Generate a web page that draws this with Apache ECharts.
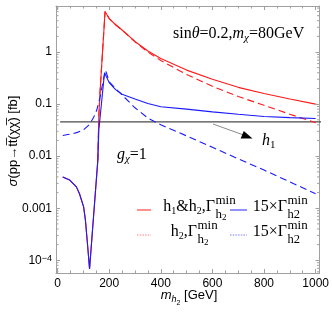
<!DOCTYPE html>
<html><head><meta charset="utf-8">
<script src="https://cdn.jsdelivr.net/npm/echarts@6/dist/echarts.min.js"></script>
<style>html,body{margin:0;padding:0;background:#fff}#c{width:332px;height:317px}</style>
</head><body><div id="c"></div>
<script>
// ---------------- data ----------------
const h1OnlySigma = 0.0457;
const h1LineMass = [10, 1030];

const redSolidMass  = [20,47,73,85,101,108,117,124,156,160,165,170,175,180,184,200,225,250,300,350,400,500,600,700,800,900,1000];
const redSolidSigma = [0.0040,0.00347,0.00257,0.0019,0.00106,0.00059,0.00018,0.000068,0.0083,0.06,0.185,0.46,1.15,2.8,6.0,4.4,3.35,2.65,1.6,1.05,0.75,0.45,0.30,0.21,0.16,0.125,0.10];

const redDashMass  = [156,160,165,170,175,180,184,200,225,250,300,350,400,500,600,700,800,900,1000];
const redDashSigma = [0.0083,0.06,0.185,0.46,1.15,2.8,6.0,4.4,3.35,2.65,1.57,1.0,0.69,0.37,0.22,0.14,0.095,0.064,0.044];

const blueSolidMass  = [20,47,73,85,101,108,117,124,156,160,182,190,200,225,250,300,350,400,500,600,700,800,900,1000];
const blueSolidSigma = [0.0040,0.00347,0.00257,0.0019,0.00106,0.00059,0.00018,0.000068,0.0083,0.032,0.40,0.33,0.26,0.19,0.155,0.125,0.103,0.089,0.08,0.071,0.064,0.058,0.055,0.053];

const blueDashMass  = [20,40,60,80,100,120,130,140,152,165,177,186,200,220,250,300,350,400,500,600,700,800,900,1000];
const blueDashSigma = [0.025,0.026,0.027,0.029,0.032,0.039,0.0457,0.056,0.077,0.138,0.29,0.45,0.27,0.21,0.15,0.085,0.054,0.040,0.0245,0.0148,0.0089,0.0054,0.0032,0.0019];

const xTickValues = [0, 200, 400, 600, 800, 1000];
const yTickValues = [1e-4, 1e-3, 1e-2, 1e-1, 1];
const yTickLabels = ['{b|10}{s|\u22124}', '0.001', '0.01', '0.1', '1'];

// ---------------- layout ----------------
const X_MIN = -6, X_MAX = 1015;
const Y_MIN = 5.7e-5, Y_MAX = 7.67;
const GRID = {left: 56, top: 6, width: 266, height: 267};
const FRAME = '#a0a0a0';
const RED = '#ff1a1a', BLUE = '#1a1aff';
const SERIF = '"Liberation Serif", "Times New Roman", serif';
const SANS = '"Liberation Sans", Arial, sans-serif';

const pairs = (m, s) => m.map((v, i) => [v, s[i]]);

// text measuring helper for composed labels
const mctx = document.createElement('canvas').getContext('2d');
function tw(t, fs, fam, it) { mctx.font = (it ? 'italic ' : '') + fs + 'px ' + fam; return mctx.measureText(t).width; }
// parts: [text, fontSize, italic, dy]
function run(x, base, parts, align, fam, fill) {
  fam = fam || SERIF; fill = fill || '#000';
  const ws = parts.map(p => tw(p[0], p[1], fam, p[2]));
  const total = ws.reduce((a, b) => a + b, 0);
  let cx = align === 'right' ? x - total : (align === 'center' ? x - total / 2 : x);
  const out = [];
  parts.forEach((p, i) => {
    out.push({
      type: 'text', x: cx, y: base + (p[3] || 0) - 0.34 * p[1], silent: true,
      style: { text: p[0], fontSize: p[1], fontFamily: fam, fontStyle: p[2] ? 'italic' : 'normal',
               fill: fill, textAlign: 'left', textVerticalAlign: 'middle', verticalAlign: 'middle' }
    });
    cx += ws[i];
  });
  return out;
}

const graphics = [];
// top-right annotation
graphics.push(...run(173, 39, [['sin', 16], ['\u03b8', 16, true], ['=0.2,', 16], ['m', 16, true], ['\u03c7', 11, true, 3], ['=80GeV', 16]]));
// g_chi = 1
graphics.push(...run(117, 160, [['g', 16, true], ['\u03c7', 11, true, 3], ['=1', 16]]));
// h1 label
graphics.push(...run(262, 146, [['h', 16, true], ['1', 11, false, 3]]));
// arrow
graphics.push({ type: 'line', silent: true, shape: { x1: 213, y1: 124, x2: 243, y2: 134.8 }, style: { stroke: '#8a8a8a', lineWidth: 1 } });
graphics.push({ type: 'polygon', silent: true, shape: { points: [[252.5, 138.5], [240.6, 138.6], [243.8, 131.0]] }, style: { fill: '#000' } });

// legend
function legendEntry(lineX1, lineX2, lineY, color, dash, textEnd, base, mainParts, subParts) {
  graphics.push({ type: 'line', silent: true, shape: { x1: lineX1, y1: lineY, x2: lineX2, y2: lineY },
    style: { stroke: color, lineWidth: 1.2, lineDash: dash, opacity: dash ? 0.55 : 0.8 } });
  graphics.push(...run(textEnd, base, mainParts, 'right'));
  graphics.push(...run(textEnd + 0.5, base - 7, [['min', 13]]));
  graphics.push(...run(textEnd + 0.5, base + 7, subParts));
}
legendEntry(137, 151, 210, RED, null, 215, 212,
  [['h', 16], ['1', 10, false, 3], ['&h', 16], ['2', 10, false, 3], [',\u0393', 16]],
  [['h', 13], ['2', 9, false, 2]]);
legendEntry(230, 247, 210, BLUE, null, 287, 212,
  [['15\u00d7\u0393', 16]], [['h2', 12.5]]);
legendEntry(137, 151, 235, RED, [1.5, 1.2], 197, 237,
  [['h', 16], ['2', 10, false, 3], [',\u0393', 16]],
  [['h', 13], ['2', 9, false, 2]]);
legendEntry(230, 247, 235, BLUE, [1.5, 1.2], 287, 237,
  [['15\u00d7\u0393', 16]], [['h2', 12.5]]);

// axis titles
graphics.push(...run(189, 300, [['m', 13, true], ['h', 9, true, 3], ['2', 7, false, 5], [' [GeV]', 13]], 'center', SANS));
graphics.push({ type: 'group', x: 13, y: 141, rotation: Math.PI / 2, silent: true,
  children: run(0, 0.34 * 13, [['\u03c3', 13, true], ['(pp\u2192tt\u0305(\u03c7\u03c7\u0305) [fb]', 13]], 'center', SANS) });

// minor ticks on the log axis (k * 10^n)
const yMinor = [];
for (let n = -5; n <= 0; n++) for (let k = 2; k <= 9; k++) { const v = k * Math.pow(10, n); if (v > Y_MIN && v < Y_MAX) yMinor.push(v); }

const chart = echarts.init(document.getElementById('c'), null, { renderer: 'canvas' });
const axisCommon = {
  axisLine: { show: true, onZero: false, lineStyle: { color: FRAME, width: 1 } },
  axisTick: { show: true, inside: true, length: 4, lineStyle: { color: FRAME, width: 1 } },
  splitLine: { show: false },
};
const lineBase = { type: 'line', showSymbol: false, symbol: 'none', clip: true, smooth: false, animation: false, z: 3 };

chart.setOption({
  animation: false,
  backgroundColor: '#fff',
  grid: GRID,
  xAxis: [
    Object.assign({}, axisCommon, { type: 'value', position: 'bottom', min: X_MIN, max: X_MAX,
      minorTick: { show: true, splitNumber: 4, length: 2.5, lineStyle: { color: FRAME } },
      axisLabel: { show: true, margin: 5, fontSize: 12, fontFamily: SANS, color: '#000',
        formatter: v => (xTickValues.indexOf(Math.round(v)) >= 0 && Math.abs(v - Math.round(v)) < 1e-6) ? String(Math.round(v)) : '' } }),
    Object.assign({}, axisCommon, { type: 'value', position: 'top', min: X_MIN, max: X_MAX,
      minorTick: { show: true, splitNumber: 4, length: 2.5, lineStyle: { color: FRAME } },
      axisLabel: { show: false } })
  ],
  yAxis: [
    Object.assign({}, axisCommon, { type: 'log', logBase: 10, position: 'left', min: Y_MIN, max: Y_MAX,
      axisLabel: { show: true, margin: 4, fontSize: 12, fontFamily: SANS, color: '#000',
        formatter: v => { for (let i = 0; i < yTickValues.length; i++) if (Math.abs(Math.log10(v) - Math.log10(yTickValues[i])) < 1e-6) return yTickLabels[i]; return ''; },
        rich: { b: { fontSize: 12, fontFamily: SANS, color: '#000', verticalAlign: 'bottom', lineHeight: 12 },
                s: { fontSize: 9, fontFamily: SANS, color: '#000', verticalAlign: 'top', lineHeight: 9, padding: [0, 0, 5, 0] } } } }),
    Object.assign({}, axisCommon, { type: 'log', logBase: 10, position: 'right', min: Y_MIN, max: Y_MAX,
      axisLabel: { show: false } })
  ],
  series: [
    Object.assign({}, lineBase, { name: 'h1', data: h1LineMass.map(m => [m, h1OnlySigma]), lineStyle: { color: '#4a4a4a', width: 1.3 }, z: 2 }),
    Object.assign({}, lineBase, { name: 'h1&h2 min', data: pairs(redSolidMass, redSolidSigma), lineStyle: { color: RED, width: 1.1 } }),
    Object.assign({}, lineBase, { name: 'h2 min', data: pairs(redDashMass, redDashSigma), lineStyle: { color: RED, width: 1.1, type: [7, 4] } }),
    Object.assign({}, lineBase, { name: '15x h1&h2', data: pairs(blueSolidMass, blueSolidSigma), lineStyle: { color: BLUE, width: 1.1 } }),
    Object.assign({}, lineBase, { name: '15x h2', data: pairs(blueDashMass, blueDashSigma), lineStyle: { color: BLUE, width: 1.1, type: [7, 4] } }),
    { type: 'custom', name: 'yminor', silent: true, clip: false, animation: false, z: 1,
      data: yMinor.map(v => [X_MIN, v]),
      renderItem: (params, api) => {
        const p = api.coord([X_MIN, api.value(1)]);
        const q = api.coord([X_MAX, api.value(1)]);
        return { type: 'group', children: [
          { type: 'line', shape: { x1: p[0], y1: p[1], x2: p[0] + 2.5, y2: p[1] }, style: { stroke: FRAME, lineWidth: 1 } },
          { type: 'line', shape: { x1: q[0] - 2.5, y1: q[1], x2: q[0], y2: q[1] }, style: { stroke: FRAME, lineWidth: 1 } }
        ] };
      } }
  ],
  graphic: graphics
});
</script></body></html>
